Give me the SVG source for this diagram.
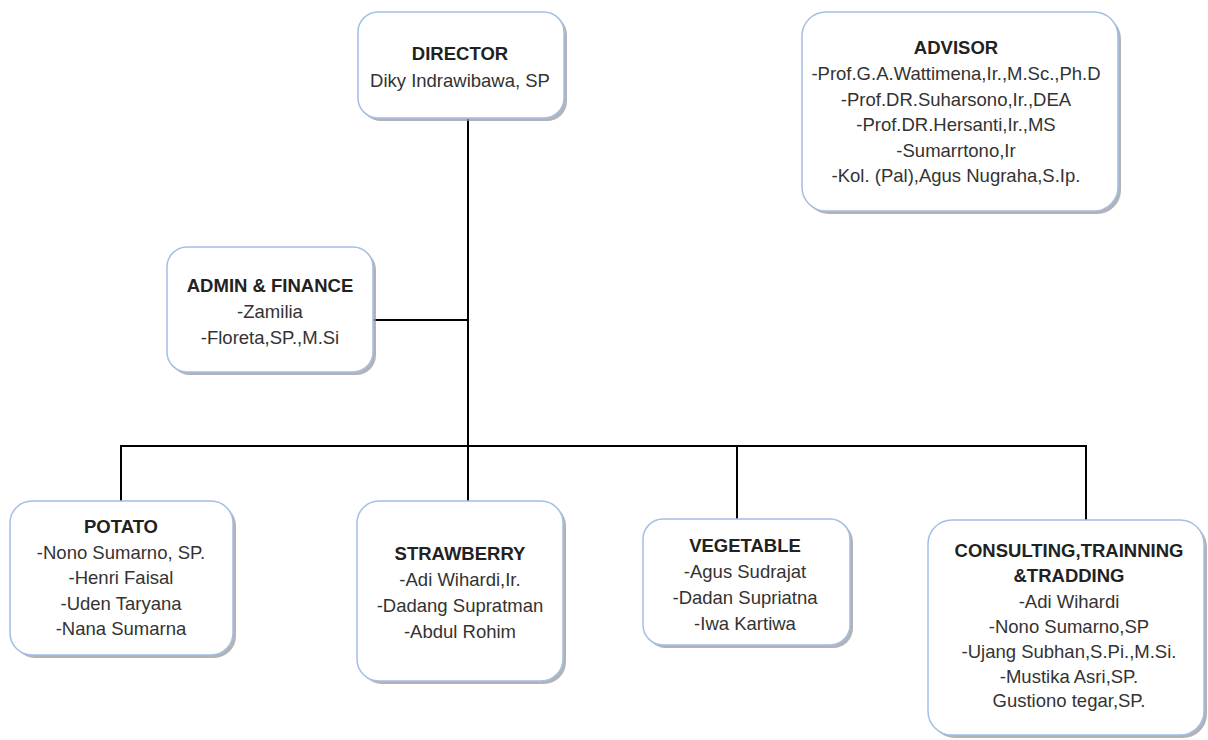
<svg xmlns="http://www.w3.org/2000/svg" width="1208" height="740" viewBox="0 0 1208 740">
  <defs>
    <style>
      .box { fill: #ffffff; stroke: #a3bfe6; stroke-width: 1.5; }
      .shadow { fill: #9a9a9a; opacity: 0.75; }
      .t { font-family: "Liberation Sans", Arial, sans-serif; font-size: 18.5px; fill: #333333; text-anchor: middle; }
      .h { font-weight: bold; fill: #222222; }
      .conn { stroke: #000000; stroke-width: 2; fill: none; }
    </style>
  </defs>
  <rect width="1208" height="740" fill="#ffffff"/>

  <g id="connectors">
    <line class="conn" x1="468" y1="119" x2="468" y2="501"/>
    <line class="conn" x1="373" y1="320" x2="468" y2="320"/>
    <polyline class="conn" points="121,501 121,446 1086,446 1086,520"/>
    <line class="conn" x1="737" y1="446" x2="737" y2="519"/>
  </g>

  <g id="director">
    <rect class="shadow" x="361" y="15" width="206" height="106" rx="20"/>
    <rect class="box" x="358" y="12" width="206" height="106" rx="20"/>
    <text class="t h" x="460" y="60">DIRECTOR</text>
    <text class="t" x="460" y="87">Diky Indrawibawa, SP</text>
  </g>

  <g id="advisor">
    <rect class="shadow" x="805" y="15" width="316" height="199" rx="24"/>
    <rect class="box" x="802" y="12" width="316" height="199" rx="24"/>
    <text class="t h" x="956" y="54">ADVISOR</text>
    <text class="t" x="956" y="80">-Prof.G.A.Wattimena,Ir.,M.Sc.,Ph.D</text>
    <text class="t" x="956" y="106">-Prof.DR.Suharsono,Ir.,DEA</text>
    <text class="t" x="956" y="131">-Prof.DR.Hersanti,Ir.,MS</text>
    <text class="t" x="956" y="157">-Sumarrtono,Ir</text>
    <text class="t" x="956" y="182">-Kol. (Pal),Agus Nugraha,S.Ip.</text>
  </g>

  <g id="admin-finance">
    <rect class="shadow" x="170" y="250" width="206" height="125" rx="20"/>
    <rect class="box" x="167" y="247" width="206" height="125" rx="20"/>
    <text class="t h" x="270" y="292">ADMIN &amp; FINANCE</text>
    <text class="t" x="270" y="318">-Zamilia</text>
    <text class="t" x="270" y="344">-Floreta,SP.,M.Si</text>
  </g>

  <g id="potato">
    <rect class="shadow" x="13" y="504" width="223" height="154" rx="22"/>
    <rect class="box" x="10" y="501" width="223" height="154" rx="22"/>
    <text class="t h" x="121" y="533">POTATO</text>
    <text class="t" x="121" y="559">-Nono Sumarno, SP.</text>
    <text class="t" x="121" y="584">-Henri Faisal</text>
    <text class="t" x="121" y="610">-Uden Taryana</text>
    <text class="t" x="121" y="635">-Nana Sumarna</text>
  </g>

  <g id="strawberry">
    <rect class="shadow" x="360" y="504" width="206" height="180" rx="22"/>
    <rect class="box" x="357" y="501" width="206" height="180" rx="22"/>
    <text class="t h" x="460" y="560">STRAWBERRY</text>
    <text class="t" x="460" y="586">-Adi Wihardi,Ir.</text>
    <text class="t" x="460" y="612">-Dadang Supratman</text>
    <text class="t" x="460" y="638">-Abdul Rohim</text>
  </g>

  <g id="vegetable">
    <rect class="shadow" x="646" y="522" width="207" height="126" rx="20"/>
    <rect class="box" x="643" y="519" width="207" height="126" rx="20"/>
    <text class="t h" x="745" y="552">VEGETABLE</text>
    <text class="t" x="745" y="578">-Agus Sudrajat</text>
    <text class="t" x="745" y="604">-Dadan Supriatna</text>
    <text class="t" x="745" y="630">-Iwa Kartiwa</text>
  </g>

  <g id="consulting">
    <rect class="shadow" x="931" y="523" width="276" height="215" rx="24"/>
    <rect class="box" x="928" y="520" width="276" height="215" rx="24"/>
    <text class="t h" x="1069" y="557">CONSULTING,TRAINNING</text>
    <text class="t h" x="1069" y="582">&amp;TRADDING</text>
    <text class="t" x="1069" y="608">-Adi Wihardi</text>
    <text class="t" x="1069" y="633">-Nono Sumarno,SP</text>
    <text class="t" x="1069" y="658">-Ujang Subhan,S.Pi.,M.Si.</text>
    <text class="t" x="1069" y="683">-Mustika Asri,SP.</text>
    <text class="t" x="1069" y="707">Gustiono tegar,SP.</text>
  </g>
</svg>
